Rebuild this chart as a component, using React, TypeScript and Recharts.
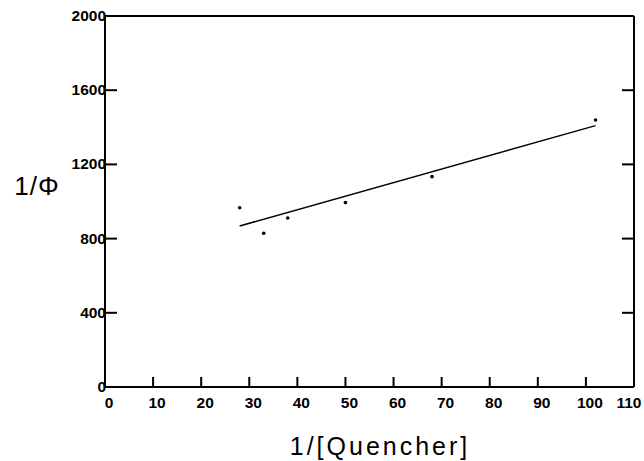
import { ScatterChart, Scatter, XAxis, YAxis, Label } from "recharts";

const xTicks = [0, 10, 20, 30, 40, 50, 60, 70, 80, 90, 100, 110];
const yTicks = [0, 400, 800, 1200, 1600, 2000];
const quencherInv = [28, 33, 38, 50, 68, 102];
const phiInv = [966, 829, 911, 994, 1134, 1439];
const fitX = [28, 102];
const fitY = [868, 1409];

const points = quencherInv.map((x, i) => ({ x, y: phiInv[i] }));
const fit = fitX.map((x, i) => ({ x, y: fitY[i] }));

const font = "'Liberation Sans', Arial, Helvetica, sans-serif";

const BottomTick = (props: any) => {
  const { x, y, payload } = props;
  const v = payload.value;
  const dx = v === 110 ? -5 : 4;
  return (
    <g>
      {v > 0 && v < 110 && <line x1={x} x2={x} y1={y} y2={y - 10} stroke="#000" strokeWidth={2} />}
      <text x={x + dx} y={y + 21} textAnchor="middle" fontFamily={font} fontWeight="bold" fontSize={15.5} fill="#000">
        {v}
      </text>
    </g>
  );
};

const TopTick = (props: any) => {
  const { x, y, payload } = props;
  const v = payload.value;
  if (v <= 0 || v >= 110) return <g />;
  return <line x1={x} x2={x} y1={y} y2={y + 10} stroke="#000" strokeWidth={2} />;
};

const LeftTick = (props: any) => {
  const { x, y, payload } = props;
  const v = payload.value;
  return (
    <g>
      {v > 0 && v < 2000 && <line x1={x} x2={x + 12} y1={y} y2={y} stroke="#000" strokeWidth={2} />}
      <text x={x + 1} y={y + 5} textAnchor="end" fontFamily={font} fontWeight="bold" fontSize={15.5} fill="#000">
        {v}
      </text>
    </g>
  );
};

const RightTick = (props: any) => {
  const { x, y, payload } = props;
  const v = payload.value;
  if (v <= 0 || v >= 2000) return <g />;
  return <line x1={x} x2={x - 12} y1={y} y2={y} stroke="#000" strokeWidth={2} />;
};

const Dot = (props: any) => <circle cx={props.cx} cy={props.cy} r={1.8} fill="#000" />;

const axisLine = { stroke: "#000", strokeWidth: 2 };

export default function App() {
  return (
    <div style={{ position: "absolute", left: 0, top: 0, background: "#fff" }}>
      <ScatterChart width={644} height={461} margin={{ top: 0, right: 0, bottom: 0, left: 0 }}>
        <XAxis
          xAxisId="bottom"
          dataKey="x"
          type="number"
          domain={[0, 110]}
          ticks={xTicks}
          interval={0}
          height={74}
          tickSize={0}
          tickMargin={0}
          tickLine={false}
          axisLine={axisLine}
          tick={<BottomTick />}
        >
          <Label
            content={(p: any) => (
              <text
                x={p.viewBox.x + 275}
                y={p.viewBox.y + 68}
                textAnchor="middle"
                fontFamily={font}
                fontSize={25}
                letterSpacing={3}
                fill="#000"
              >
                1/[Quencher]
              </text>
            )}
          />
        </XAxis>
        <XAxis
          xAxisId="top"
          orientation="top"
          type="number"
          domain={[0, 110]}
          allowDataOverflow
          ticks={xTicks}
          interval={0}
          height={16}
          tickSize={0}
          tickMargin={0}
          tickLine={false}
          axisLine={axisLine}
          tick={<TopTick />}
        />
        <YAxis
          yAxisId="left"
          dataKey="y"
          type="number"
          domain={[0, 2000]}
          ticks={yTicks}
          interval={0}
          width={105}
          tickSize={0}
          tickMargin={0}
          tickLine={false}
          axisLine={axisLine}
          tick={<LeftTick />}
        >
          <Label
            content={(p: any) => (
              <text
                x={p.viewBox.x + 37}
                y={p.viewBox.y + 179}
                textAnchor="middle"
                fontFamily={font}
                fontSize={26}
                letterSpacing={1}
                fill="#000"
              >
                1/Φ
              </text>
            )}
          />
        </YAxis>
        <YAxis
          yAxisId="right"
          orientation="right"
          type="number"
          domain={[0, 2000]}
          allowDataOverflow
          ticks={yTicks}
          interval={0}
          width={10}
          tickSize={0}
          tickMargin={0}
          tickLine={false}
          axisLine={axisLine}
          tick={<RightTick />}
        />
        <Scatter
          xAxisId="bottom"
          yAxisId="left"
          data={fit}
          line={{ stroke: "#000", strokeWidth: 1.5 }}
          shape={() => <g />}
          isAnimationActive={false}
        />
        <Scatter xAxisId="bottom" yAxisId="left" data={points} shape={<Dot />} isAnimationActive={false} />
      </ScatterChart>
    </div>
  );
}
